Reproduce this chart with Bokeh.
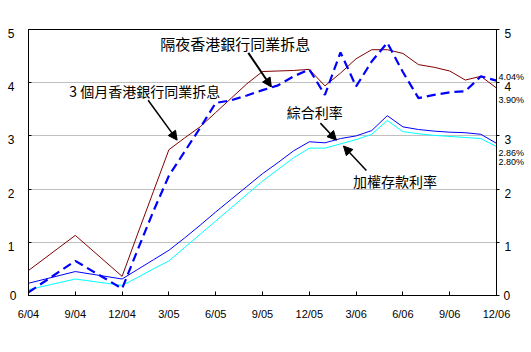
import pandas as pd
from bokeh.plotting import figure
from bokeh.models import Range1d, LinearAxis, FixedTicker, Label, Arrow, NormalHead, ColumnDataSource
from bokeh.embed import file_html
from bokeh.resources import INLINE

# ---------------- data ----------------
dates = ["2004-06", "2004-09", "2004-12",
         "2005-01", "2005-02", "2005-03", "2005-04", "2005-05", "2005-06",
         "2005-07", "2005-08", "2005-09", "2005-10", "2005-11", "2005-12",
         "2006-01", "2006-02", "2006-03", "2006-04", "2006-05", "2006-06",
         "2006-07", "2006-08", "2006-09", "2006-10", "2006-11", "2006-12"]

hibor_3m = [0.47, 1.13, 0.36,
            1.16, 1.95, 2.74, 2.96, 3.17, 3.44,
            3.71, 3.98, 4.21, 4.22, 4.23, 4.25,
            3.94, 4.18, 4.45, 4.62, 4.62, 4.55,
            4.34, 4.29, 4.22, 4.05, 4.12, 3.90]

hibor_overnight = [0.06, 0.65, 0.13,
                   0.86, 1.58, 2.25, 2.70, 3.15, 3.62,
                   3.67, 3.76, 3.86, 3.95, 4.12, 4.25,
                   3.77, 4.57, 3.93, 4.40, 4.75, 4.20,
                   3.71, 3.77, 3.82, 3.84, 4.12, 4.04]

composite_rate = [0.23, 0.45, 0.31,
                  0.49, 0.67, 0.85, 1.08, 1.32, 1.57,
                  1.81, 2.05, 2.29, 2.50, 2.72, 2.89,
                  2.87, 2.95, 3.00, 3.10, 3.38, 3.17,
                  3.12, 3.09, 3.07, 3.06, 3.03, 2.86]

deposit_rate = [0.11, 0.31, 0.19,
                0.34, 0.50, 0.65, 0.90, 1.15, 1.40,
                1.65, 1.90, 2.15, 2.37, 2.59, 2.77,
                2.77, 2.85, 2.93, 3.03, 3.29, 3.08,
                3.04, 3.01, 2.99, 2.97, 2.95, 2.80]

x_tick_labels = ["6/04", "9/04", "12/04", "3/05", "6/05", "9/05",
                 "12/05", "3/06", "6/06", "9/06", "12/06"]
y_ticks = [0, 1, 2, 3, 4, 5]
grid_ticks = [1, 2, 3, 4]

name_3m = "3 個月香港銀行同業拆息"
name_on = "隔夜香港銀行同業拆息"
name_comp = "綜合利率"
name_dep = "加權存款利率"

# ---------------- helpers ----------------
d = pd.to_datetime(dates)
xm = ((d.year - 2004) * 12 + d.month - 6).tolist()

def tick_pos(lbl):
    m, y = lbl.split("/")
    return (int(y) - 4) * 12 + int(m) - 6

x_ticks = [tick_pos(t) for t in x_tick_labels]

src = ColumnDataSource(dict(x=xm, h3=hibor_3m, on=hibor_overnight,
                            comp=composite_rate, dep=deposit_rate))

CJK = "Noto Sans CJK TC"
LAT = "Liberation Sans"
LABEL_SHIFT = 0.075   # tick labels sit a few pixels below their gridline

p = figure(width=531, height=352, x_range=Range1d(0, 30), y_range=Range1d(0, 5),
           output_backend="svg", toolbar_location=None,
           min_border_left=28, min_border_right=35, min_border_top=29, min_border_bottom=57)
p.extra_y_ranges = {"lab": Range1d(LABEL_SHIFT, 5 + LABEL_SHIFT)}
p.background_fill_color = "white"
p.border_fill_color = "white"
p.outline_line_color = "black"
p.outline_line_width = 1

# grid
p.xgrid.visible = False
p.ygrid.ticker = FixedTicker(ticks=grid_ticks)
p.ygrid.grid_line_color = "#c0c0c0"
p.ygrid.grid_line_width = 1

# x axis
xa = p.xaxis[0]
xa.ticker = FixedTicker(ticks=x_ticks)
xa.major_label_overrides = {t: l for t, l in zip(x_ticks, x_tick_labels)}
xa.axis_line_color = "black"
xa.major_tick_in = 4
xa.major_tick_out = 0
xa.minor_tick_line_color = None
xa.major_label_standoff = 12
xa.major_label_text_font = LAT
xa.major_label_text_font_size = "11px"
xa.major_label_text_color = "black"

zero_only = {t: (str(t) if t == 0 else "") for t in y_ticks}
upper_ticks = [t for t in y_ticks if t > 0]

def style_labels(ax, size="12px"):
    ax.major_label_text_font = LAT
    ax.major_label_text_font_size = size
    ax.major_label_text_color = "black"

# left axis: line + ticks + "0"
ya = p.yaxis[0]
ya.ticker = FixedTicker(ticks=y_ticks)
ya.major_label_overrides = zero_only
ya.axis_line_color = "black"
ya.major_tick_in = 3
ya.major_tick_out = 0
ya.minor_tick_line_color = None
ya.major_label_standoff = 12
style_labels(ya)

# left labels 1..5 (slightly lowered)
la = LinearAxis(y_range_name="lab", ticker=FixedTicker(ticks=upper_ticks))
la.axis_line_color = None
la.major_tick_line_color = None
la.minor_tick_line_color = None
la.major_tick_in = 0
la.major_tick_out = 0
la.major_label_standoff = -8
style_labels(la)
p.add_layout(la, "left")

# right axis: line + ticks + "0"
ra = LinearAxis(ticker=FixedTicker(ticks=y_ticks))
ra.major_label_overrides = zero_only
ra.axis_line_color = "black"
ra.major_tick_in = 0
ra.major_tick_out = 3
ra.minor_tick_line_color = None
ra.major_label_standoff = 4
style_labels(ra)
p.add_layout(ra, "right")

# end-value labels (annotations are clipped to the frame, so use an invisible axis)
end_vals = [hibor_overnight[-1], hibor_3m[-1], composite_rate[-1], deposit_rate[-1]]
end_y = [4.105, 3.67, 2.674, 2.505]
ea = LinearAxis(ticker=FixedTicker(ticks=end_y))
ea.major_label_overrides = {yy: f"{v:.2f}%" for yy, v in zip(end_y, end_vals)}
ea.axis_line_color = None
ea.major_tick_line_color = None
ea.minor_tick_line_color = None
ea.major_tick_in = 0
ea.major_tick_out = 0
ea.major_label_standoff = -15
style_labels(ea, "9px")
p.add_layout(ea, "right")

# right labels 1..5 (slightly lowered)
rl = LinearAxis(y_range_name="lab", ticker=FixedTicker(ticks=upper_ticks))
rl.axis_line_color = None
rl.major_tick_line_color = None
rl.minor_tick_line_color = None
rl.major_tick_in = 0
rl.major_tick_out = 0
rl.major_label_standoff = -23
style_labels(rl)
p.add_layout(rl, "right")

# lines
p.line("x", "dep", source=src, line_color="#00ffff", line_width=1)
p.line("x", "comp", source=src, line_color="#0000ff", line_width=1)
p.line("x", "h3", source=src, line_color="#800000", line_width=1)
p.line("x", "on", source=src, line_color="#0000ff", line_width=2.2, line_dash="9 5")

# annotations
def lab(x, y, text, size="14px", font=CJK):
    p.add_layout(Label(x=x, y=y, text=text, text_font=font, text_font_size=size,
                       text_baseline="middle", text_align="left", text_color="black"))

lab(8.44, 4.745, name_on, size="15px")
lab(2.62, 3.85, name_3m)
lab(16.55, 3.45, name_comp)
lab(20.8, 2.15, name_dep)

def arrow(x0, y0, x1, y1, w=1.5):
    p.add_layout(Arrow(end=NormalHead(size=9, fill_color="black", line_color="black"),
                       x_start=x0, y_start=y0, x_end=x1, y_end=y1,
                       line_color="black", line_width=w))

arrow(7.67, 3.67, 9.53, 2.92)
arrow(14.09, 4.56, 15.57, 3.92, w=2)
arrow(18.71, 3.24, 19.74, 2.92)
arrow(21.66, 2.35, 20.19, 2.81)

open("out.html", "w").write(file_html(p, INLINE))
